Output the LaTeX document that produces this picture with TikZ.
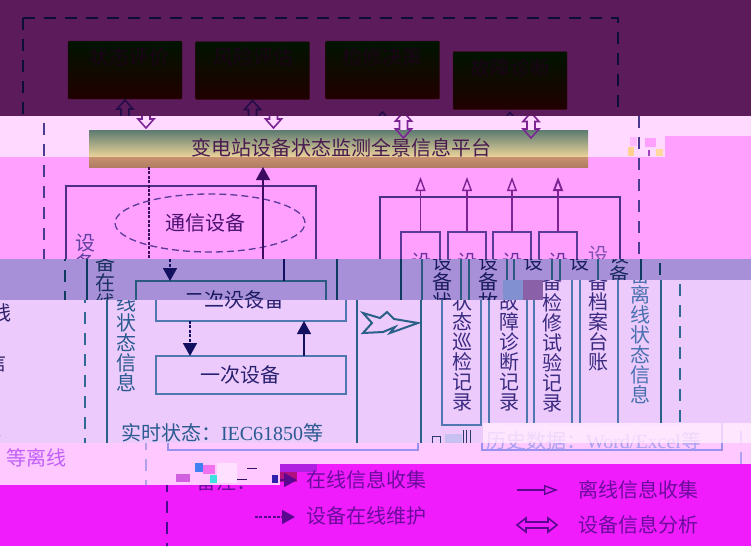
\documentclass[tikz,border=0pt]{standalone}
\usepackage{fontspec}
\setmainfont{Liberation Serif}
\newfontfamily\cjk{Noto Sans CJK SC}
\usetikzlibrary{arrows.meta,calc,shapes.geometric}
\definecolor{bgA}{HTML}{5C1C5C}
\definecolor{bgB}{HTML}{FFD9FF}
\definecolor{bgC}{HTML}{FFA0FF}
\definecolor{bgD}{HTML}{A890D8}
\definecolor{bgE}{HTML}{ECCBFC}
\definecolor{bgF}{HTML}{FFC8FF}
\definecolor{bgG}{HTML}{F01CFC}
\newcommand\cols[5]{\definecolor{ln}{HTML}{#1}\definecolor{inn}{HTML}{#2}\definecolor{frm}{HTML}{#3}\definecolor{arr}{HTML}{#4}\definecolor{ink}{HTML}{#5}}
\cols{000000}{000000}{000000}{000000}{000000}
\tikzset{
  frameline/.style={draw=frm,line width=2.5pt,dash pattern=on 12pt off 9pt},
  outerbox/.style={draw=ln,line width=1.8pt,inner sep=0pt,outer sep=0pt},
  innerbox/.style={draw=inn,line width=1.4pt,inner sep=0pt,outer sep=0pt},
  topbox/.style={inner sep=0pt,outer sep=0pt,draw=boxedge,rounded corners=1pt,top color=boxtop,bottom color=boxbot,minimum width=114pt,minimum height=58pt},
  holo/.style={draw=arr,line width=1.6pt,line join=miter},
  solidarr/.style={draw=ink,line width=1.3pt,-{Triangle[length=13pt,width=14pt]}},
  dasharr/.style={draw=ink,line width=1.8pt,dash pattern=on 3pt off 1.4pt,-{Triangle[length=13pt,width=14pt]}},
  openarr/.style={draw=arr,line width=1.4pt,-{Triangle[open,length=14pt,width=10pt]}},
  txt/.style={inner sep=0pt,outer sep=0pt,font=\cjk\fontsize{20}{20}\selectfont}
}
\definecolor{boxedge}{HTML}{3A0A14}
\definecolor{boxtop}{HTML}{001400}
\definecolor{boxbot}{HTML}{200000}
\newcounter{tn}
\newcommand\T[4]{\stepcounter{tn}\definecolor{tc}{HTML}{#1}\node[txt,text=tc] (t\arabic{tn}x) at (#2,#3) {#4};}
\newcommand\X[2]{\definecolor{fc}{HTML}{#1}\fill[fc] #2;}
\newcommand\dblarr[2]{\draw[holo] (#1) -- ($(#1)+(8,9)$) -- ($(#1)+(4,9)$) -- ($(#2)+(4,-9)$) -- ($(#2)+(8,-9)$) -- (#2) -- ($(#2)+(-8,-9)$) -- ($(#2)+(-4,-9)$) -- ($(#1)+(-4,9)$) -- ($(#1)+(-8,9)$) -- cycle;}
\newcommand\structure{%
  \node[topbox] (b1) at (125,70) {};
  \node[topbox] (b2) at (252.5,70.5) {};
  \node[topbox] (b3) at (382.5,70) {};
  \node[topbox] (b4) at (510,80.5) {};
  \node[inner sep=0pt,outer sep=0pt,minimum width=499pt,minimum height=37pt] (plat) at (317.5,148.5) {};
  \draw[frameline] (23,18) -- (618,18) -- (618,570);
  \draw[frameline] (23,18) -- (23,570);
  \node[outerbox,minimum width=250pt,minimum height=264pt] (L) at (170,318) {};
  \node[outerbox,minimum width=240pt,minimum height=253pt] (R) at (479,323.5) {};
  \node[innerbox,minimum width=39pt,minimum height=193pt] (c1) at (399.5,328.5) {};
  \node[innerbox,minimum width=38pt,minimum height=193pt] (c2) at (446,328.5) {};
  \node[innerbox,minimum width=38pt,minimum height=193pt] (c3) at (491,328.5) {};
  \node[innerbox,minimum width=38pt,minimum height=193pt] (c4) at (537,328.5) {};
  \node[draw=inn,line width=1.3pt,dash pattern=on 7pt off 4pt,ellipse,inner sep=0pt,minimum width=190pt,minimum height=58pt] (ell) at (189,223) {};
  \node[innerbox,minimum width=190pt,minimum height=40pt] (sec) at (189,301) {};
  \node[innerbox,minimum width=190pt,minimum height=38pt] (pri) at (189,375) {};
  \coordinate (xa) at (128,0);
  \coordinate (xb) at (242,0);
  \draw[dasharr] (xa |- plat.south) -- (xa |- sec.north);
  \draw[dasharr] (xa |- sec.south) -- (xa |- pri.north);
  \draw[solidarr] (xb |- sec.north) -- (xb |- plat.south);
  \draw[solidarr] (xb |- pri.north) -- (xb |- sec.south);
  \coordinate (up) at (0,177);
  \foreach \k in {c1,c2,c3} {\draw[openarr] (\k.north) -- (\k |- up);}
  \draw[openarr,line width=1.9pt] (c4.north) -- (c4 |- up);
  \coordinate (a1t) at ($(b1.south)+(0,1)$);
  \coordinate (a1b) at ($(b1 |- plat.north)+(0,-2)$);
  \coordinate (a2t) at ($(b2.south)+(0,1)$);
  \coordinate (a2b) at ($(b2 |- plat.north)+(0,-2)$);
  \coordinate (a3t) at ($(b3.south)+(0,13)$);
  \coordinate (a3b) at ($(b3 |- plat.north)+(0,8)$);
  \coordinate (a4t) at ($(b4.south)+(0,3)$);
  \coordinate (a4b) at ($(b4 |- plat.north)+(0,8)$);
  \dblarr{a1t}{a1b}\dblarr{a2t}{a2b}\dblarr{a3t}{a3b}\dblarr{a4t}{a4b}
}
\newcommand\band[4]{\begin{scope}\clip #1;#3\begin{scope}[xshift=#2pt]\structure\end{scope}#4\end{scope}}
\begin{document}
\begin{tikzpicture}[x=1pt,y=-1pt]
\useasboundingbox (0,0) rectangle (751,546);
\clip (0,0) rectangle (751,546);
% band A
\band{(0,0) rectangle (751,116)}{0}{\cols{1A1040}{1A1040}{0A0F3A}{240C48}{1A1040}\fill[bgA] (0,0) rectangle (751,116);}{%
  \T{1A0418}{129}{57}{状态评价}\T{1A0418}{253}{57}{风险评估}\T{1A0418}{382}{57}{检修决策}\T{1A0418}{510}{68}{故障诊断}}
% band B and C
\band{(0,116) rectangle (751,259)}{21}{\cols{4A2F85}{5A3A98}{4A3A90}{7C2494}{3C0C60}
  \fill[bgC] (0,116) rectangle (751,259);
  \fill[bgB] (0,116) rectangle (751,136);
  \fill[bgB] (0,136) rectangle (665,157);
  \definecolor{pa}{HTML}{5C7A70}\definecolor{pb}{HTML}{ECD49A}\definecolor{pc}{HTML}{C89070}\definecolor{pd}{HTML}{B07C62}
  \fill[top color=pa,bottom color=pb] (89,130) rectangle (588,157);
  \fill[top color=pc,bottom color=pd] (89,157) rectangle (588,167);
  \X{FFB8FF}{(630,137) rectangle (637,146)}
  \X{FFA0FF}{(645,138) rectangle (656,147)}
  \X{FFD090}{(628,147) rectangle (634,156)}
  \X{A040C0}{(648,150) rectangle (650,156)}
  \X{FFD8A0}{(656,149) rectangle (663,156)}
}{%
  \T{4A1A50}{341}{148}{变电站设备状态监测全景信息平台}
  \T{4A1070}{205}{223}{通信设备}
  \T{6040A0}{85}{243}{设}\T{6040A0}{85}{263}{备}
  \T{6A30A0}{421}{262}{设}\T{6A30A0}{467}{262}{设}\T{6A30A0}{512}{262}{设}\T{6A30A0}{558}{262}{设}
  \T{8050B0}{598}{255}{设}}
% band D
\band{(0,259)--(751,259)--(751,280)--(503,280)--(503,300)--(0,300)--cycle}{42}{\cols{0F3A60}{2A5A80}{0F3A60}{0F3A60}{141060}\fill[bgD] (0,259) rectangle (751,300);}{%
  \T{1A3060}{105}{263}{备}\T{1A3060}{105}{283}{在}\T{1A3060}{105}{303}{线}
  \T{1A1A60}{224}{300}{二次设备}
  \T{1A1A60}{442}{262}{设}\T{1A1A60}{442}{282}{备}\T{1A1A60}{442}{302}{状}
  \T{1A1A60}{488}{262}{设}\T{1A1A60}{488}{282}{备}\T{1A1A60}{488}{302}{故}
  \T{1A1A60}{533}{262}{设}\T{1A1A60}{579}{262}{设}
  \T{1A2A60}{619}{255}{设}\T{1A2A60}{619}{275}{备}}
% band E
\band{(0,300)--(503,300)--(503,280)--(751,280)--(751,423)--(483,423)--(483,443)--(0,443)--cycle}{62}{\cols{2A6088}{5078B0}{2F6A96}{2A6088}{141060}\fill[bgE] (0,280) rectangle (751,443);}{%
  \T{2A5A90}{126}{303}{线}\T{2A5A90}{126}{323}{状}\T{2A5A90}{126}{343}{态}\T{2A5A90}{126}{363}{信}\T{2A5A90}{126}{383}{息}
  \T{2A2070}{244}{300}{二次设备}
  \T{2A2070}{240}{375}{一次设备}
  \definecolor{rtc}{HTML}{2A5A90}
  \node[txt,anchor=west,text=rtc] (rt) at (121,433) {实时状态：{\fontspec{Liberation Serif}IEC61850}等};
  \definecolor{chev}{HTML}{2A6088}
  \draw[draw=chev,line width=2pt,line join=miter] (363,313)--(380,318)--(387,312)--(394,319)--(418,323)--(390,333)--(395,327)--(383,332)--(363,333)--(372,323)--cycle;
  \T{3A2A80}{462}{302}{状}\T{3A2A80}{462}{322}{态}\T{3A2A80}{462}{342}{巡}\T{3A2A80}{462}{362}{检}\T{3A2A80}{462}{382}{记}\T{3A2A80}{462}{402}{录}
  \T{3A2A80}{509}{302}{故}\T{3A2A80}{509}{322}{障}\T{3A2A80}{509}{342}{诊}\T{3A2A80}{509}{362}{断}\T{3A2A80}{509}{382}{记}\T{3A2A80}{509}{402}{录}
  \T{3A2A80}{552}{282}{备}\T{3A2A80}{552}{303}{检}\T{3A2A80}{552}{323}{修}\T{3A2A80}{552}{343}{试}\T{3A2A80}{552}{363}{验}\T{3A2A80}{552}{383}{记}\T{3A2A80}{552}{403}{录}
  \T{3A2A80}{598}{282}{备}\T{3A2A80}{598}{302}{档}\T{3A2A80}{598}{322}{案}\T{3A2A80}{598}{342}{台}\T{3A2A80}{598}{362}{账}
  \T{4A70B0}{640}{275}{备}\T{4A70B0}{640}{295}{离}\T{4A70B0}{640}{315}{线}\T{4A70B0}{640}{335}{状}\T{4A70B0}{640}{355}{态}\T{4A70B0}{640}{375}{信}\T{4A70B0}{640}{395}{息}
  \T{30206A}{1}{313}{线}\T{30206A}{-3}{363}{信}\T{30206A}{-8}{428}{状}
  \X{8090D0}{(503,280) rectangle (523,300)}
  \X{8A60A8}{(523,280) rectangle (543,300)}
  \X{C8C0F0}{(445,434) rectangle (462,443)}
  \definecolor{gl}{HTML}{2A3A70}
  \draw[gl,line width=1pt] (463,430)--(463,443) (466,430)--(466,443) (470,430)--(470,443);
  \draw[gl,line width=1pt] (432,443)--(432,436)--(440,436)--(440,443);
}
% band F
\band{(0,443)--(483,443)--(483,423)--(751,423)--(751,464)--(280,464)--(280,485)--(0,485)--cycle}{123}{\cols{9A90EE}{EEE0FF}{B0A0EE}{9A90EE}{9A90EE}\tikzset{frameline/.append style={line width=1.6pt}}
  \fill[bgF] (0,423) rectangle (751,485);
  \X{FFE6FF}{(483,423) rectangle (751,443)}}{%
  \T{C060F8}{36}{458}{等离线}
  \definecolor{htc}{HTML}{A8A0F0}
  \node[txt,anchor=west,text=htc] (hist) at (486,441) {历史数据：{\fontspec{Liberation Serif}Word/Excel}等};
  \definecolor{veil}{HTML}{FFE6FF}
  \fill[veil,opacity=.8] (483,423) rectangle (751,443);
  \X{FFE0FF}{(217,463) rectangle (237,483)}
  \X{4080F0}{(195,463) rectangle (203,472)}
  \X{F070F0}{(203,465) rectangle (215,474)}
  \X{40E0E0}{(210,475) rectangle (217,483)}
  \X{D060E0}{(176,474) rectangle (190,482)}
  \definecolor{gl}{HTML}{30106A}
  \draw[gl,line width=1pt] (247,468) -- (257,468) (237,479) -- (247,479);
  \X{3020B0}{(272,475) rectangle (278,483)}
}
% band G
\band{(0,485)--(280,485)--(280,464)--(751,464)--(751,546)--(0,546)--cycle}{144}{\cols{4A0A90}{4A0A90}{4A0A90}{4A0A90}{4A0A90}\fill[bgG] (0,464) rectangle (751,546);
  \X{B020E0}{(280,464) rectangle (317,472)}
  \X{B01080}{(280,472) rectangle (297,482)}}{%
  \T{6C0C9C}{226}{482}{备注：}
  \T{6C0C9C}{366}{480}{在线信息收集}
  \T{6C0C9C}{366}{516}{设备在线维护}
  \T{6C0C9C}{638}{490}{离线信息收集}
  \T{6C0C9C}{638}{525}{设备信息分析}
  \coordinate (l1a) at (270,480);\coordinate (l1b) at (297,480);
  \coordinate (l2a) at (255,517);\coordinate (l2b) at (295,517);
  \coordinate (l3a) at (517,490);\coordinate (l3b) at (558,490);
  \definecolor{ink}{HTML}{5A0890}
  \definecolor{arr}{HTML}{5A0890}
  \draw[solidarr] (l1a) -- (l1b);
  \draw[dasharr] (l2a) -- (l2b);
  \draw[openarr] (l3a) -- (l3b);
  \draw[holo] (517,525) -- (526,518) -- (526,522) -- (548,522) -- (548,518) -- (557,525) -- (548,532) -- (548,528) -- (526,528) -- (526,532) -- cycle;
}
\end{tikzpicture}
\end{document}
